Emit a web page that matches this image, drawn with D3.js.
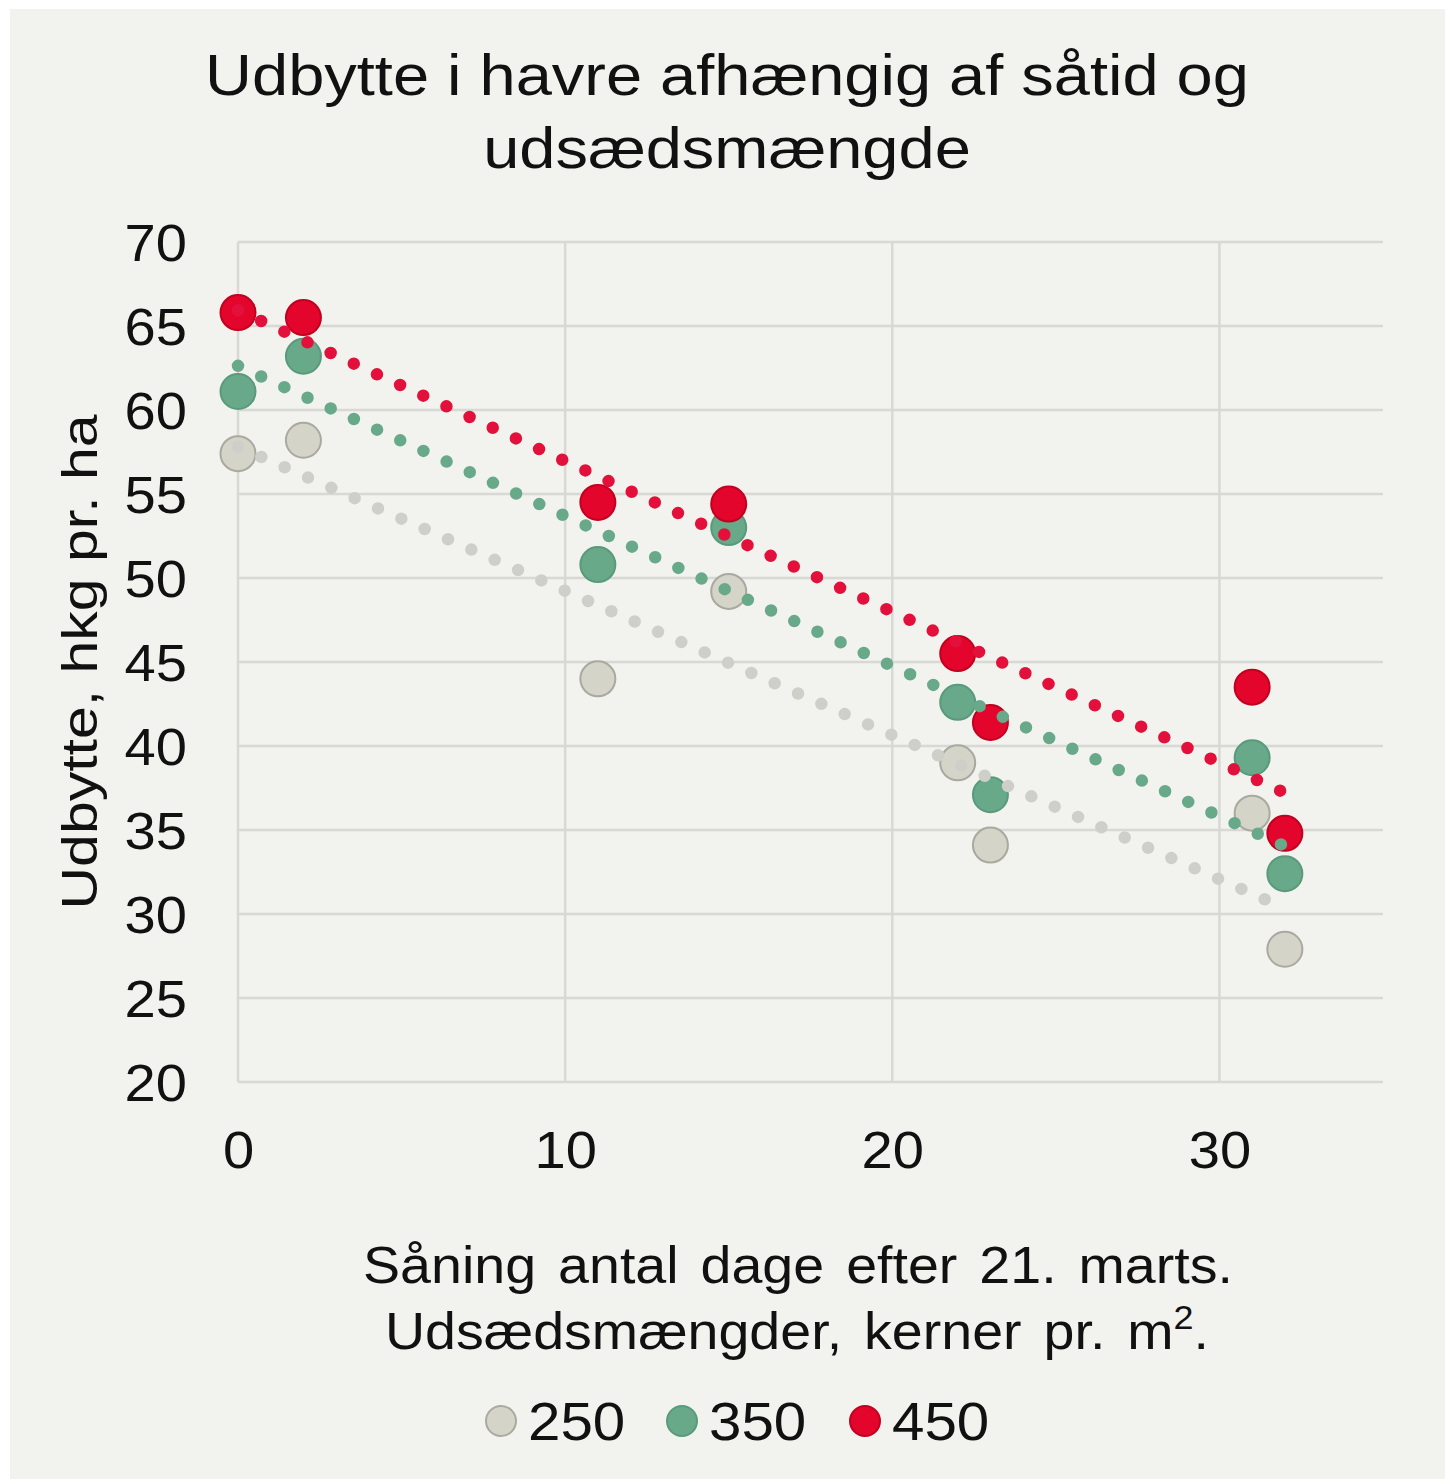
<!DOCTYPE html>
<html>
<head>
<meta charset="utf-8">
<script src="https://cdn.jsdelivr.net/npm/d3@7"></script>
<style>
    body { margin: 0; background: #ffffff; }
    text { font-family: "Liberation Sans", Arial, sans-serif; fill: #111; }
</style>
</head>
<body>
<div id="chart"></div>
<script>
// days after 21 March
const days = [0, 2, 11, 15, 22, 23, 31, 32];
const seedRates = ['250', '350', '450'];
const yield250 = [57.4, 58.2, 44.0, 49.2, 39.0, 34.1, 36.0, 27.9];
const yield350 = [61.1, 63.2, 50.8, 53.0, 42.6, 37.1, 39.3, 32.4];
const yield450 = [65.8, 65.5, 54.5, 54.4, 45.5, 41.4, 43.5, 34.8];
const yTicks = [20, 25, 30, 35, 40, 45, 50, 55, 60, 65, 70];
const xTicks = [0, 10, 20, 30];

const W = 1445, H = 1479;
const margin = {top: 242, right: 62, bottom: 397, left: 238};
const width = W - margin.left - margin.right;
const height = H - margin.top - margin.bottom;

const colors = {
    '250': {fill: '#d4d4c9', stroke: '#a9a99f', trend: '#cfcfca'},
    '350': {fill: '#68a98a', stroke: '#5a9a7c', trend: '#68a98a'},
    '450': {fill: '#e4052c', stroke: '#c2001f', trend: '#e2103a'}
};

let series = [
    {name: '250', values: yield250},
    {name: '350', values: yield350},
    {name: '450', values: yield450}
];

// the original text is a bit wider than Liberation Sans, stretch it horizontally
function stretch(sel, sx) {
    sel.each(function () {
        let t = d3.select(this);
        let ax = +t.attr('x') || 0;
        let old = t.attr('transform') || '';
        t.attr('transform', `${old} translate(${ax},0) scale(${sx},1) translate(${-ax},0)`);
    });
}

let svg = d3.select('#chart').append('svg')
    .attr('width', W)
    .attr('height', H);

// background panel
svg.append('rect')
    .attr('x', 10).attr('y', 9)
    .attr('width', W - 10).attr('height', H - 9)
    .attr('fill', '#f2f2ee');

let g = svg.append('g')
    .attr('transform', `translate(${margin.left},${margin.top})`);

let x = d3.scaleLinear().domain([0, 35]).range([0, width]);
let y = d3.scaleLinear().domain([20, 70]).range([height, 0]);

// gridlines
g.selectAll('.hgrid')
    .data(yTicks)
    .enter().append('line')
    .attr('x1', 0).attr('x2', width)
    .attr('y1', d => y(d)).attr('y2', d => y(d))
    .attr('stroke', '#d8d8d4')
    .attr('stroke-width', 2.5);

g.selectAll('.vgrid')
    .data(xTicks)
    .enter().append('line')
    .attr('x1', d => x(d)).attr('x2', d => x(d))
    .attr('y1', 0).attr('y2', height)
    .attr('stroke', '#d8d8d4')
    .attr('stroke-width', 2.5);

// axes (labels only)
let yAxis = d3.axisLeft(y).tickValues(yTicks).tickSize(0).tickPadding(51);
let yLabels = g.append('g').call(yAxis)
    .call(a => a.select('.domain').remove())
    .selectAll('text')
    .style('font-size', '51px')
    .attr('dy', '0.36em');
stretch(yLabels, 1.1);

let xAxis = d3.axisBottom(x).tickValues(xTicks).tickSize(0).tickPadding(50);
let xLabels = g.append('g')
    .attr('transform', `translate(0,${height})`)
    .call(xAxis)
    .call(a => a.select('.domain').remove())
    .selectAll('text')
    .style('font-size', '51px')
    .attr('dy', '0.71em');
stretch(xLabels, 1.1);

// markers
series.forEach(s => {
    g.selectAll('.pt' + s.name)
        .data(days.map((d, i) => ({x: d, y: s.values[i]})))
        .enter().append('circle')
        .attr('cx', d => x(d.x))
        .attr('cy', d => y(d.y))
        .attr('r', 17.5)
        .attr('fill', colors[s.name].fill)
        .attr('stroke', colors[s.name].stroke)
        .attr('stroke-width', 2);
});

// linear trendlines (least squares, as in the original)
series.forEach(s => {
    let mx = d3.mean(days), my = d3.mean(s.values);
    let sxy = d3.sum(days, (d, i) => (d - mx) * (s.values[i] - my));
    let sxx = d3.sum(days, d => (d - mx) * (d - mx));
    let slope = sxy / sxx;
    let icpt = my - slope * mx;
    let x0 = d3.min(days), x1 = d3.max(days);
    g.append('line')
        .attr('x1', x(x0)).attr('y1', y(icpt + slope * x0))
        .attr('x2', x(x1)).attr('y2', y(icpt + slope * x1))
        .attr('stroke', colors[s.name].trend)
        .attr('stroke-width', 12.5)
        .attr('stroke-linecap', 'round')
        .attr('stroke-dasharray', '0 25.5');
});

// title
let title = svg.append('g');
title.append('text')
    .attr('x', 727).attr('y', 95)
    .attr('text-anchor', 'middle')
    .style('font-size', '57px')
    .text('Udbytte i havre afhængig af såtid og');
title.append('text')
    .attr('x', 727).attr('y', 168)
    .attr('text-anchor', 'middle')
    .style('font-size', '57px')
    .text('udsædsmængde');
stretch(title.selectAll('text'), 1.14);

// y title
svg.append('text')
    .attr('transform', 'translate(97,662) rotate(-90)')
    .attr('text-anchor', 'middle')
    .style('font-size', '50px')
    .attr('textLength', 495)
    .attr('lengthAdjust', 'spacingAndGlyphs')
    .text('Udbytte,  hkg pr. ha');

// x title
let xTitle = svg.append('g');
xTitle.append('text')
    .attr('x', 798).attr('y', 1283)
    .attr('text-anchor', 'middle')
    .style('font-size', '51px')
    .style('word-spacing', '6px')
    .text('Såning antal dage efter 21. marts.');
let xt2 = xTitle.append('text')
    .attr('x', 797).attr('y', 1349)
    .attr('text-anchor', 'middle')
    .style('font-size', '51px')
    .style('word-spacing', '6px');
xt2.append('tspan').text('Udsædsmængder, kerner pr. m');
xt2.append('tspan').attr('dy', -20).style('font-size', '33px').text('2');
xt2.append('tspan').attr('dy', 20).text('.');
stretch(xTitle.selectAll('text'), 1.09);

// legend
let legendX = [501, 682, 865];
let legend = svg.selectAll('.legend')
    .data(seedRates)
    .enter().append('g')
    .attr('transform', (d, i) => `translate(${legendX[i]},1421)`);
legend.append('circle')
    .attr('r', 15)
    .attr('fill', d => colors[d].fill)
    .attr('stroke', d => colors[d].stroke)
    .attr('stroke-width', 2);
let legendText = legend.append('text')
    .attr('x', 27).attr('y', 19)
    .style('font-size', '53px')
    .text(d => d);
stretch(legendText, 1.1);
</script>
</body>
</html>
